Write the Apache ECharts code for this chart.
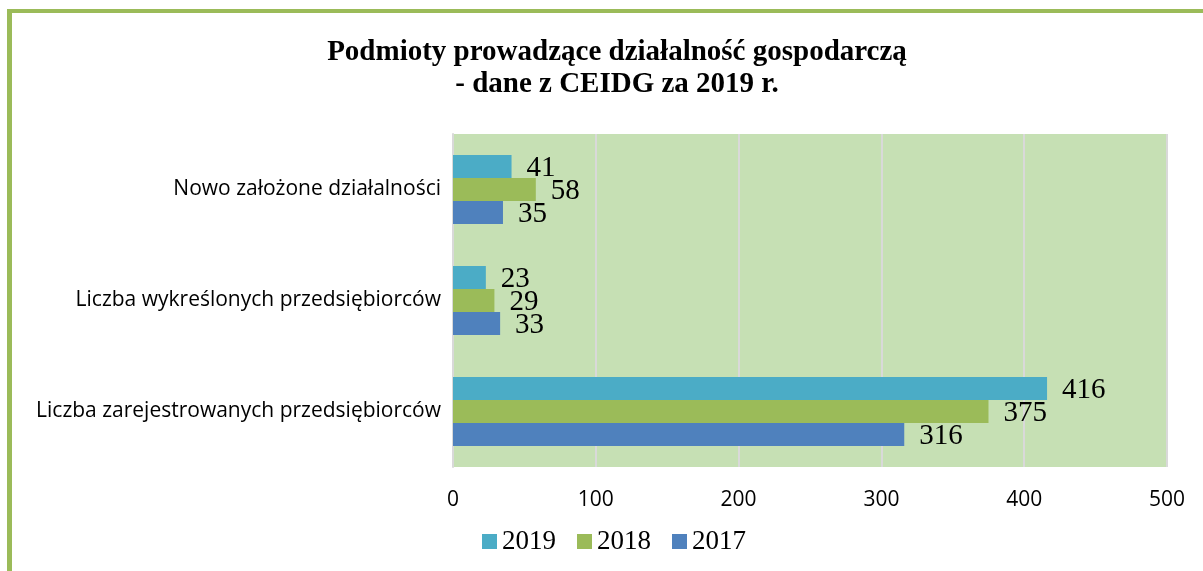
<!DOCTYPE html>
<html>
<head>
<meta charset="utf-8">
<script src="https://cdn.jsdelivr.net/npm/echarts@6/dist/echarts.min.js"></script>
<style>
  html, body { margin: 0; padding: 0; background: #fff; }
  #chart { width: 1203px; height: 571px; }
</style>
</head>
<body>
<div id="chart"></div>
<script>
// kategorie od dołu do góry
const categories = [
  'Liczba zarejestrowanych przedsiębiorców',
  'Liczba wykreślonych przedsiębiorców',
  'Nowo założone działalności'
];
const values2017 = [316, 33, 35];
const values2018 = [375, 29, 58];
const values2019 = [416, 23, 41];
const xTicks = [0, 100, 200, 300, 400, 500];

const serif = '"Liberation Serif", "Times New Roman", serif';
const sans = '"Open Sans", "Liberation Sans", sans-serif';

const chart = echarts.init(document.getElementById('chart'));

function barSeries(name, data, color) {
  return {
    name: name,
    type: 'bar',
    data: data,
    barGap: '0%',
    barCategoryGap: '38%',
    itemStyle: { color: color },
    label: {
      show: true,
      position: 'right',
      distance: 15,
      offset: [0, 2],
      color: '#000',
      fontFamily: serif,
      fontSize: 29
    }
  };
}

chart.setOption({
  animation: false,
  graphic: [
    // ramka
    { type: 'rect', shape: { x: 7, y: 9, width: 5, height: 562 }, style: { fill: '#9BBB59' } },
    { type: 'rect', shape: { x: 7, y: 9, width: 1196, height: 4 }, style: { fill: '#9BBB59' } }
  ],
  title: {
    text: 'Podmioty prowadzące działalność gospodarczą\n- dane z CEIDG za 2019 r.',
    left: 612,
    top: 32,
    textAlign: 'center',
    textStyle: {
      fontFamily: serif,
      fontWeight: 'bold',
      fontSize: 29,
      lineHeight: 32,
      color: '#000'
    }
  },
  legend: {
    data: ['2019', '2018', '2017'],
    left: 477,
    top: 523,
    icon: 'rect',
    itemWidth: 15,
    itemHeight: 15,
    itemGap: 21,
    textStyle: { fontFamily: serif, fontSize: 27, color: '#000' }
  },
  grid: {
    left: 453,
    right: 36,
    top: 134,
    bottom: 104,
    show: true,
    backgroundColor: '#C6E0B4',
    borderWidth: 0
  },
  xAxis: {
    type: 'value',
    min: xTicks[0],
    max: xTicks[xTicks.length - 1],
    interval: 100,
    axisLine: { show: false },
    axisTick: { show: false },
    axisLabel: { color: '#000', fontFamily: sans, fontSize: 21, margin: 23 },
    splitLine: { show: true, lineStyle: { color: '#D9D9D9', width: 2 } }
  },
  yAxis: {
    type: 'category',
    data: categories,
    axisLine: { show: true, lineStyle: { color: '#D9D9D9', width: 2 } },
    axisTick: { show: false },
    axisLabel: { color: '#000', fontFamily: sans, fontSize: 21, margin: 12 }
  },
  series: [
    barSeries('2019', values2019, '#4BACC6'),
    barSeries('2018', values2018, '#9BBB59'),
    barSeries('2017', values2017, '#4F81BD')
  ]
});
</script>
</body>
</html>
